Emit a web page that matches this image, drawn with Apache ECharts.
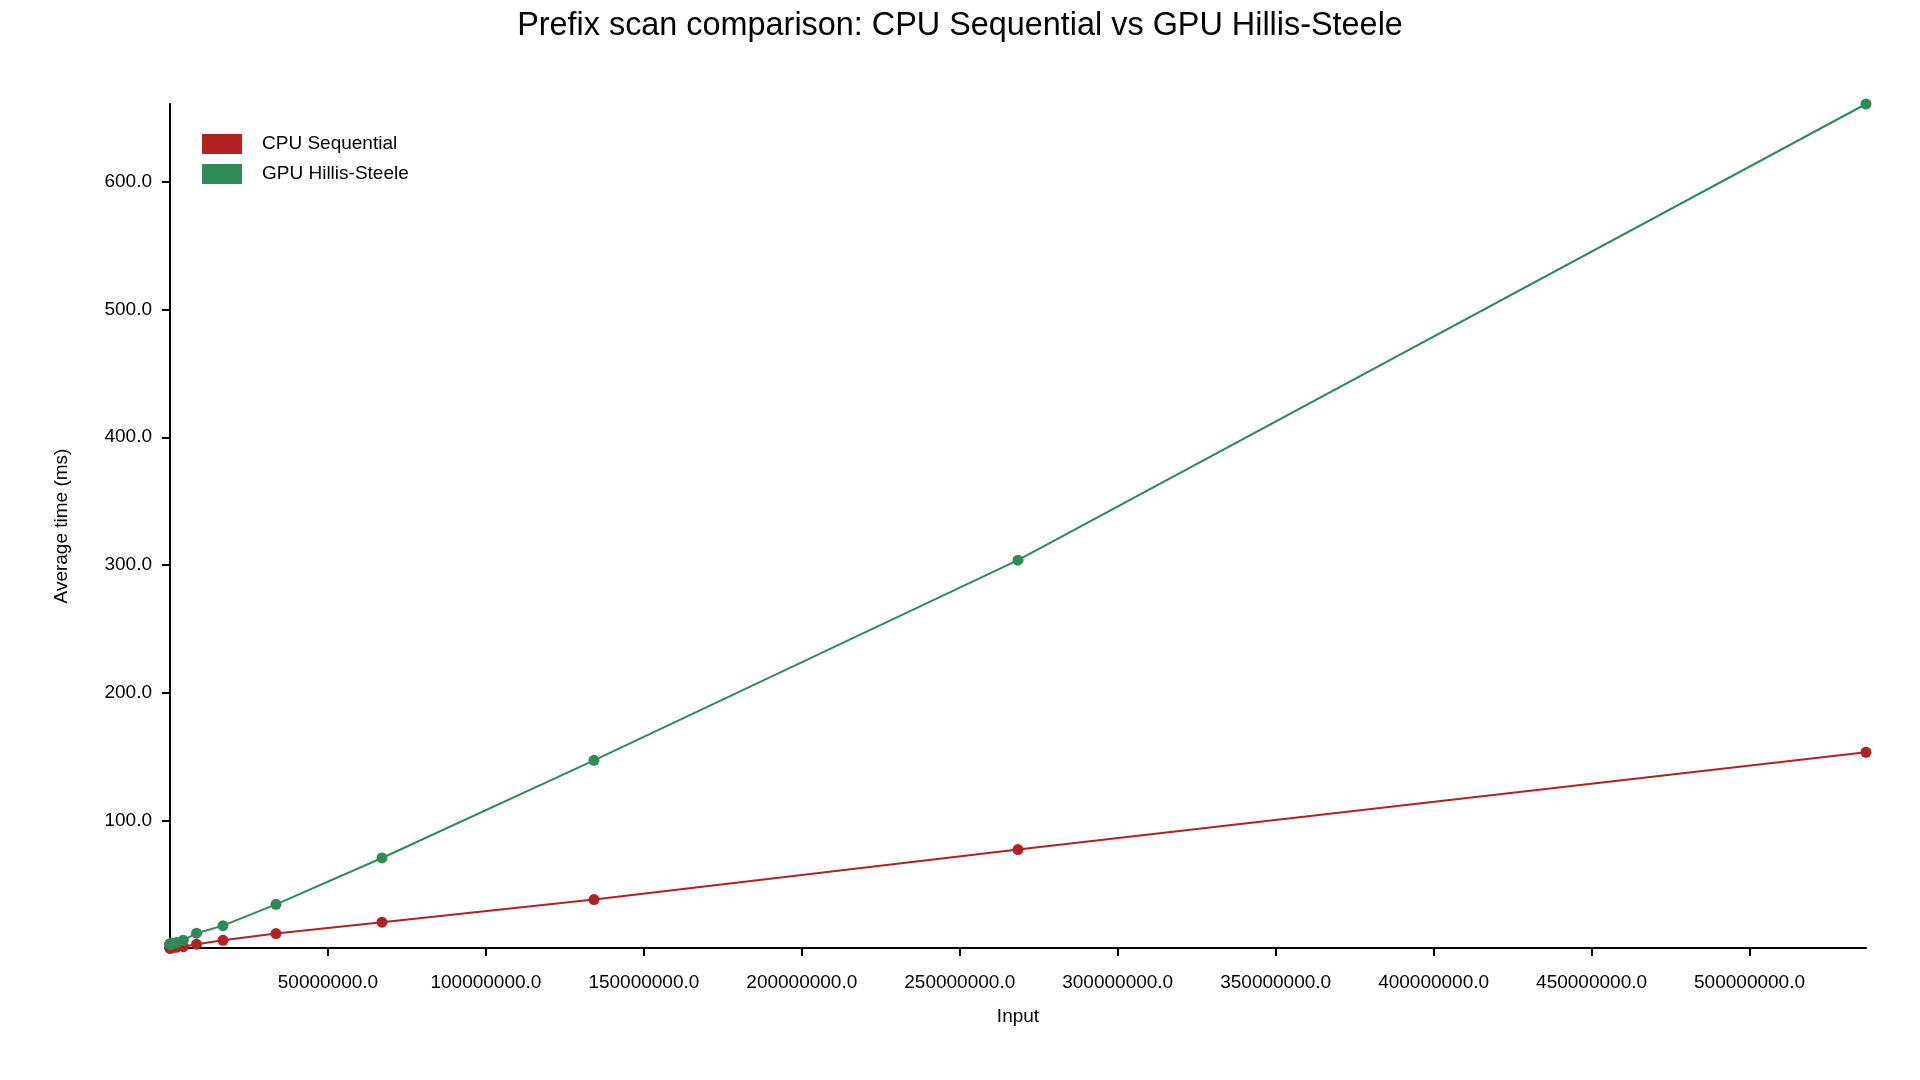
<!DOCTYPE html>
<html>
<head>
<meta charset="utf-8">
<script src="https://cdn.jsdelivr.net/npm/echarts@6/dist/echarts.min.js"></script>
<style>
html,body{margin:0;padding:0;background:#fff;}
#chart{width:1920px;height:1080px;}
</style>
</head>
<body>
<div id="chart"></div>
<script>
const inputs = [1024, 2048, 4096, 8192, 16384, 32768, 65536, 131072, 262144, 524288,
  1048576, 2097152, 4194304, 8388608, 16777216, 33554432, 67108864, 134217728, 268435456, 536870912];
const cpuTimes = [0.003, 0.006, 0.01, 0.02, 0.04, 0.08, 0.15, 0.3, 0.5, 0.7,
  0.3, 0.6, 1.0, 3.0, 6.0, 11.3, 20.2, 37.9, 77.1, 153.3];
const gpuTimes = [3.0, 3.0, 3.0, 3.1, 3.1, 3.1, 3.2, 3.2, 3.3, 3.4,
  3.6, 4.3, 6.0, 11.6, 17.5, 34.2, 70.5, 147.0, 303.7, 661.0];
const xTicks = [50000000, 100000000, 150000000, 200000000, 250000000, 300000000, 350000000, 400000000, 450000000, 500000000];
const yTicks = [100, 200, 300, 400, 500, 600];
const seriesNames = ['CPU Sequential', 'GPU Hillis-Steele'];
const colors = ['#b22222', '#2e8b57'];

const FONT = '"Liberation Sans", Arial, Helvetica, sans-serif';
const chart = echarts.init(document.getElementById('chart'));
const pair = (arr) => inputs.map((x, i) => [x, arr[i]]);

chart.setOption({
  animation: false,
  backgroundColor: '#ffffff',
  textStyle: { fontFamily: FONT },
  title: {
    text: 'Prefix scan comparison: CPU Sequential vs GPU Hillis-Steele',
    left: 'center',
    top: 5,
    textStyle: { fontFamily: FONT, fontSize: 32.4, fontWeight: 'normal', color: '#000' }
  },
  legend: {
    orient: 'vertical',
    left: 197,
    top: 129,
    itemWidth: 40,
    itemHeight: 20,
    itemGap: 10,
    icon: 'rect',
    data: seriesNames,
    textStyle: { fontFamily: FONT, fontSize: 19, color: '#000', padding: [0, 0, 0, 15] }
  },
  grid: { left: 170, right: 54, top: 104, bottom: 132, containLabel: false },
  xAxis: {
    type: 'value',
    min: 0,
    max: inputs[inputs.length - 1],
    name: 'Input',
    nameLocation: 'middle',
    nameGap: 59,
    nameTextStyle: { fontFamily: FONT, fontSize: 19, color: '#000' },
    axisLine: { show: true, onZero: false, lineStyle: { color: '#000', width: 2 } },
    axisTick: { show: true, length: 8, lineStyle: { color: '#000', width: 2 }, customValues: xTicks },
    axisLabel: { fontFamily: FONT, fontSize: 19, color: '#000', margin: 25, customValues: xTicks,
      formatter: (v) => Number(v).toFixed(1) },
    splitLine: { show: false }
  },
  yAxis: {
    type: 'value',
    min: 0,
    max: gpuTimes[gpuTimes.length - 1],
    name: 'Average time (ms)',
    nameLocation: 'middle',
    nameGap: 99,
    nameRotate: 90,
    nameTextStyle: { fontFamily: FONT, fontSize: 19, color: '#000' },
    axisLine: { show: true, onZero: false, lineStyle: { color: '#000', width: 2 } },
    axisTick: { show: true, length: 8, lineStyle: { color: '#000', width: 2 }, customValues: yTicks },
    axisLabel: { fontFamily: FONT, fontSize: 19, color: '#000', margin: 18, customValues: yTicks,
      formatter: (v) => Number(v).toFixed(1) },
    splitLine: { show: false }
  },
  series: [
    {
      name: seriesNames[0], type: 'line', data: pair(cpuTimes),
      symbol: 'circle', symbolSize: 11, color: colors[0],
      lineStyle: { color: colors[0], width: 2 },
      itemStyle: { color: colors[0] }
    },
    {
      name: seriesNames[1], type: 'line', data: pair(gpuTimes),
      symbol: 'circle', symbolSize: 11, color: colors[1],
      lineStyle: { color: colors[1], width: 2 },
      itemStyle: { color: colors[1] }
    }
  ]
});
</script>
</body>
</html>
